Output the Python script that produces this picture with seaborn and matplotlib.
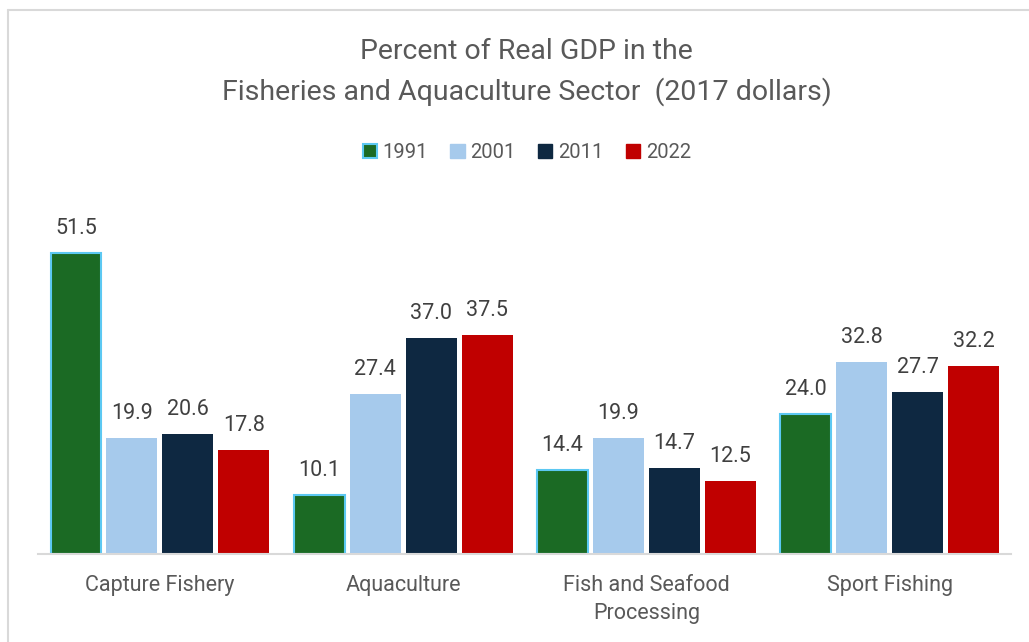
import matplotlib
matplotlib.use("Agg")
import matplotlib.pyplot as plt
from matplotlib.patches import Patch
from matplotlib.lines import Line2D
import seaborn as sns
import pandas as pd

categories = ["Capture Fishery", "Aquaculture", "Fish and Seafood\nProcessing", "Sport Fishing"]
years = ["1991", "2001", "2011", "2022"]
values_1991 = [51.5, 10.1, 14.4, 24.0]
values_2001 = [19.9, 27.4, 19.9, 32.8]
values_2011 = [20.6, 37.0, 14.7, 27.7]
values_2022 = [17.8, 37.5, 12.5, 32.2]

colors = ["#1B6A24", "#A6CAEC", "#0E2841", "#C00000"]
edge_1991 = "#5CC8F2"
text_color = "#595959"
grid_gray = "#D9D9D9"

series = [values_1991, values_2001, values_2011, values_2022]
rows = []
for year, vals in zip(years, series):
    for cat, v in zip(categories, vals):
        rows.append({"category": cat, "year": year, "value": v})
df = pd.DataFrame(rows)

sns.set_theme(style="white")
plt.rcParams["font.family"] = ["Roboto", "DejaVu Sans"]

fig = plt.figure(figsize=(10.29, 6.42), dpi=100)
ax = fig.add_axes([0.0372, 0.1371, 0.9456, 0.5514])

sns.barplot(data=df, x="category", y="value", hue="year", order=categories,
            hue_order=years, palette=colors, width=0.92, gap=0.09,
            saturation=1, ax=ax, legend=False, linewidth=0)

for i, cont in enumerate(ax.containers):
    if i == 0:
        for bar in cont:
            bar.set_edgecolor(edge_1991)
            bar.set_linewidth(1.5)
    ax.bar_label(cont, labels=[f"{v:.1f}" for v in series[i]], padding=10,
                 fontsize=15.5, color="#404040")

ax.set_ylim(0, 60.6)
ax.set_xlim(-0.5, 3.5)
ax.set_xlabel("")
ax.set_ylabel("")
ax.set_yticks([])
ax.tick_params(axis="x", length=0, pad=15, labelsize=15.5, labelcolor=text_color)
for lbl in ax.get_xticklabels():
    lbl.set_linespacing(1.45)
for s in ["top", "right", "left"]:
    ax.spines[s].set_visible(False)
ax.spines["bottom"].set_color(grid_gray)
ax.spines["bottom"].set_linewidth(1.5)

fig.text(0.512, 0.920, "Percent of Real GDP in the", ha="center", va="center",
         fontsize=20.5, color=text_color)
fig.text(0.512, 0.858, "Fisheries and Aquaculture Sector  (2017 dollars)", ha="center",
         va="center", fontsize=20.5, color=text_color)

handles = [Patch(facecolor=colors[0], edgecolor=edge_1991, linewidth=1.5)] + \
          [Patch(facecolor=c, edgecolor=c) for c in colors[1:]]
fig.legend(handles, years, loc="center", bbox_to_anchor=(0.512, 0.763), ncol=4,
           frameon=False, fontsize=14.5, labelcolor=text_color,
           handlelength=0.7, handleheight=0.7, handletextpad=0.3,
           columnspacing=1.1)

# outer frame (left and top edges)
fig.add_artist(Line2D([8 / 1029, 8 / 1029], [0, 1 - 10 / 642], transform=fig.transFigure,
                      color=grid_gray, linewidth=1.5))
fig.add_artist(Line2D([8 / 1029, 1], [1 - 10 / 642, 1 - 10 / 642], transform=fig.transFigure,
                      color=grid_gray, linewidth=1.5))

fig.savefig("out.png", dpi=100)
